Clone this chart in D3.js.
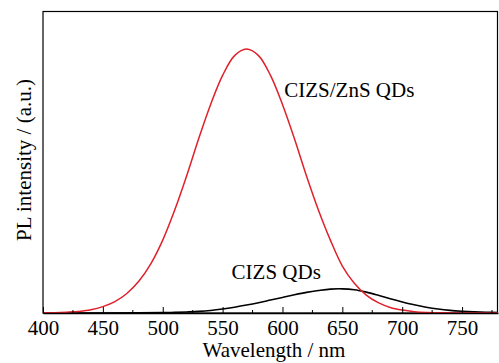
<!DOCTYPE html>
<html>
<head>
<meta charset="utf-8">
<script src="https://cdn.jsdelivr.net/npm/d3@7"></script>
<style>
  body { margin: 0; background: #fff; }
  svg text { font-family: "Liberation Serif", "Times New Roman", serif; fill: #000; }
</style>
</head>
<body>
<div id="chart"></div>
<script>
// wavelength (nm) and PL intensity (red peak = 1)
var znsWavelength = [400, 410, 420, 430, 440, 450, 460, 470, 480, 490, 500, 510, 520, 530, 540, 550, 560, 570, 580, 590, 600, 610, 620, 630, 640, 650, 660, 670, 680, 690, 700, 710, 720, 730, 740, 750, 780];
var znsIntensity  = [0.0005, 0.001, 0.003, 0.006, 0.012, 0.024, 0.043, 0.074, 0.12, 0.186, 0.276, 0.39, 0.52, 0.66, 0.79, 0.9, 0.975, 1.0, 0.975, 0.9, 0.79, 0.66, 0.52, 0.39, 0.276, 0.178, 0.113, 0.068, 0.039, 0.021, 0.011, 0.005, 0.002, 0.001, 0.0005, 0, 0];

var cizsWavelength = [400, 450, 480, 500, 510, 520, 530, 540, 550, 560, 570, 580, 590, 600, 610, 620, 630, 640, 650, 660, 670, 680, 690, 700, 710, 720, 730, 740, 750, 760, 770, 780];
var cizsIntensity  = [0, 0, 0.0007, 0.0015, 0.0025, 0.004, 0.006, 0.0095, 0.015, 0.022, 0.03, 0.039, 0.049, 0.059, 0.069, 0.078, 0.085, 0.0905, 0.0915, 0.088, 0.079, 0.067, 0.054, 0.042, 0.031, 0.022, 0.015, 0.010, 0.0068, 0.0045, 0.003, 0.002];

var xTicks = [400, 450, 500, 550, 600, 650, 700, 750];
var xMinorTicks = [425, 475, 525, 575, 625, 675, 725, 775];

var labels = [
  {text: "CIZS/ZnS QDs", x: 601.5, y: 0.818},
  {text: "CIZS QDs", x: 557.5, y: 0.129}
];

var width = 499, height = 363;
var margin = {top: 11.5, right: 1, bottom: 50, left: 43};

var svg = d3.select("#chart").append("svg")
  .attr("width", width)
  .attr("height", height);

var x = d3.scaleLinear().domain([400, 780]).range([margin.left, width - margin.right]);
var y = d3.scaleLinear().domain([0, 1.142]).range([height - margin.bottom, margin.top]);

// frame
svg.append("rect")
  .attr("x", margin.left)
  .attr("y", margin.top)
  .attr("width", width - margin.right - margin.left - 0.5)
  .attr("height", y(0) - margin.top)
  .attr("fill", "none")
  .attr("stroke", "#000")
  .attr("stroke-width", 1.2);

// curves
var line = d3.line()
  .x(function(d) { return x(d[0]); })
  .y(function(d) { return y(d[1]); })
  .curve(d3.curveCatmullRom.alpha(0.5));

svg.append("path")
  .datum(d3.zip(cizsWavelength, cizsIntensity))
  .attr("fill", "none")
  .attr("stroke", "#000")
  .attr("stroke-width", 1.6)
  .attr("d", line);

svg.append("path")
  .datum(d3.zip(znsWavelength, znsIntensity))
  .attr("fill", "none")
  .attr("stroke", "#e0202a")
  .attr("stroke-width", 1.5)
  .attr("d", line);

// bottom axis with inward ticks
var xAxis = d3.axisBottom(x)
  .tickValues(xTicks)
  .tickSizeInner(-6)
  .tickSizeOuter(0)
  .tickPadding(7);

var gx = svg.append("g")
  .attr("transform", "translate(0," + y(0) + ")")
  .call(xAxis);
gx.select(".domain").attr("stroke-width", 1.6);
gx.selectAll("text")
  .style("font-size", "21px")
  .style("font-family", "'Liberation Serif', serif");

gx.selectAll(".minor")
  .data(xMinorTicks)
  .enter().append("line")
  .attr("class", "minor")
  .attr("x1", function(d) { return x(d); })
  .attr("x2", function(d) { return x(d); })
  .attr("y1", 0)
  .attr("y2", -3)
  .attr("stroke", "#000");

// axis titles
svg.append("text")
  .attr("x", 274)
  .attr("y", 357)
  .attr("text-anchor", "middle")
  .style("font-size", "21px")
  .text("Wavelength / nm");

svg.append("text")
  .attr("transform", "translate(31,160) rotate(-90)")
  .attr("text-anchor", "middle")
  .style("font-size", "21px")
  .text("PL intensity / (a.u.)");

// curve labels
svg.selectAll(".label")
  .data(labels)
  .enter().append("text")
  .attr("class", "label")
  .attr("x", function(d) { return x(d.x); })
  .attr("y", function(d) { return y(d.y); })
  .style("font-size", "21px")
  .text(function(d) { return d.text; });
</script>
</body>
</html>
